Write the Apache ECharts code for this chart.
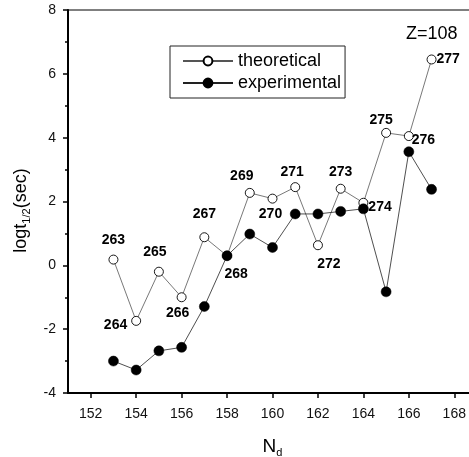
<!DOCTYPE html>
<html>
<head>
<meta charset="utf-8">
<script src="https://cdn.jsdelivr.net/npm/echarts@6/dist/echarts.min.js"></script>
<style>
    html, body { margin: 0; padding: 0; background: #fff; }
    #main { width: 469px; height: 457px; }
</style>
</head>
<body>
<div id="main"></div>
<script>
// neutron number N_d
var nd = [153, 154, 155, 156, 157, 158, 159, 160, 161, 162, 163, 164, 165, 166, 167];
// mass number for each point
var massNum = [263, 264, 265, 266, 267, 268, 269, 270, 271, 272, 273, 274, 275, 276, 277];
var theoretical = [0.18, -1.74, -0.2, -1.0, 0.88, 0.3, 2.27, 2.09, 2.45, 0.63, 2.4, 1.96, 4.15, 4.05, 6.45];
var experimental = [-3.0, -3.28, -2.68, -2.57, -1.29, 0.3, 0.98, 0.56, 1.61, 1.61, 1.69, 1.77, -0.83, 3.56, 2.38];
var xTicks = [152, 154, 156, 158, 160, 162, 164, 166, 168];

/**
 * 标签位置 (style only)
 */
var labelPos = [
    {position: 'top', distance: 7},
    {position: 'left', distance: 4, offset: [0, 4]},
    {position: 'top', distance: 8, offset: [-4, 0]},
    {position: 'bottom', distance: 4, offset: [-4, 0]},
    {position: 'top', distance: 11},
    {position: 'bottom', distance: 6, offset: [9, 0]},
    {position: 'top', distance: 5, offset: [-8, 0]},
    {position: 'bottom', distance: 4, offset: [-2, 0]},
    {position: 'top', distance: 3, offset: [-3, 0]},
    {position: 'bottom', distance: 7, offset: [11, 0]},
    {position: 'top', distance: 5},
    {position: 'right', distance: 0, offset: [0, 4]},
    {position: 'top', distance: 1, offset: [-5, 0]},
    {position: 'right', distance: 0, offset: [-2, 4]},
    {position: 'right', distance: 0}
];

function buildTheo() {
    var arr = [];
    for (var i = 0; i < nd.length; i++) {
        var lp = labelPos[i];
        arr.push({
            value: [nd[i], theoretical[i]],
            label: {
                show: true,
                formatter: String(massNum[i]),
                position: lp.position,
                distance: lp.distance,
                offset: lp.offset || [0, 0]
            }
        });
    }
    return arr;
}

function buildExp() {
    var arr = [];
    for (var i = 0; i < nd.length; i++) {
        arr.push([nd[i], experimental[i]]);
    }
    return arr;
}

var myChart = echarts.init(document.getElementById('main'));
myChart.setOption({
    animation: false,
    backgroundColor: '#fff',
    textStyle: {fontFamily: 'Arial, "Liberation Sans", sans-serif'},
    grid: {
        left: 68, top: 10, right: -8, bottom: 64,
        outerBoundsMode: 'none',
        containLabel: false,
        show: true, borderColor: '#000', borderWidth: 1
    },
    legend: {
        left: 170, top: 46,
        orient: 'vertical',
        itemGap: 4,
        itemWidth: 50, itemHeight: 11,
        padding: [6, 4, 6, 12],
        borderColor: '#222', borderWidth: 1,
        textStyle: {fontSize: 18, color: '#000', fontFamily: 'Arial, "Liberation Sans", sans-serif'},
        data: ['theoretical', 'experimental']
    },
    graphic: [{
        type: 'text',
        left: 406, top: 25,
        style: {text: 'Z=108', fill: '#000', font: '18px Arial, "Liberation Sans", sans-serif'}
    }],
    xAxis: [{
        type: 'value',
        min: 151, max: 169,
        name: 'N{sub|d}',
        nameLocation: 'middle',
        nameGap: 42,
        nameTextStyle: {fontSize: 19, color: '#000', rich: {sub: {fontSize: 11, verticalAlign: 'bottom', padding: [12, 0, 0, 0]}}},
        axisLine: {show: true, onZero: false, lineStyle: {color: '#000', width: 2}},
        axisTick: {show: true, length: 5, inside: false, customValues: xTicks, lineStyle: {color: '#000', width: 1.5}},
        axisLabel: {customValues: xTicks, fontSize: 14, color: '#111', margin: 14},
        splitLine: {show: false}
    }],
    yAxis: {
        type: 'value',
        min: -4, max: 8, interval: 2,
        name: 'logt{sub|1/2}(sec)',
        nameLocation: 'middle',
        nameGap: 36,
        nameTextStyle: {fontSize: 18, color: '#000', padding: [0, 18, 0, 0], rich: {sub: {fontSize: 11, verticalAlign: 'bottom', padding: [10, 0, 0, 0]}}},
        axisLine: {show: true, onZero: false, lineStyle: {color: '#000', width: 2}},
        axisTick: {show: true, length: 5, lineStyle: {color: '#000', width: 1.5}},
        minorTick: {show: true, splitNumber: 2, length: 3, lineStyle: {color: '#000', width: 1.5}},
        axisLabel: {fontSize: 14, color: '#111', margin: 12},
        splitLine: {show: false}
    },
    series: [
        {
            name: 'theoretical',
            type: 'line',
            symbol: 'circle',
            symbolSize: 9,
            z: 3,
            lineStyle: {color: '#555', width: 0.8},
            itemStyle: {color: '#fff', borderColor: '#000', borderWidth: 0.9},
            label: {fontSize: 14, fontWeight: 'bold', color: '#000'},
            data: buildTheo()
        },
        {
            name: 'experimental',
            type: 'line',
            symbol: 'circle',
            symbolSize: 10,
            z: 4,
            lineStyle: {color: '#222', width: 0.8},
            itemStyle: {color: '#000', borderColor: '#000', borderWidth: 0.5},
            data: buildExp()
        }
    ]
});
</script>
</body>
</html>
